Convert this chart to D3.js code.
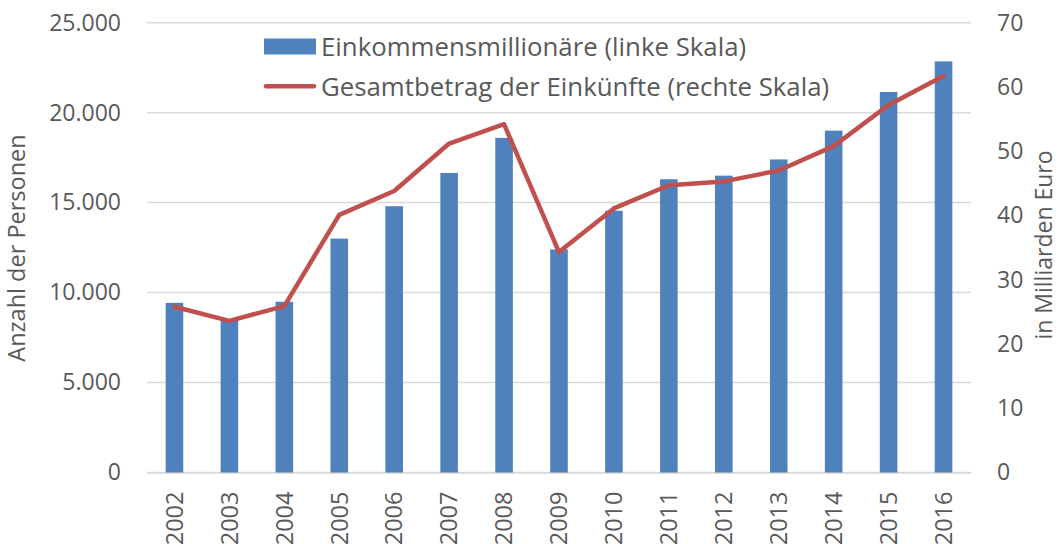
<!DOCTYPE html>
<html>
<head>
<meta charset="utf-8">
<script src="https://cdn.jsdelivr.net/npm/d3@7"></script>
<style>
  body { margin: 0; background: #fff; }
  svg text { font-family: "Open Sans", sans-serif; fill: #595959; }
</style>
</head>
<body>
<div class="canvas"></div>
<script>
const years = ['2002','2003','2004','2005','2006','2007','2008','2009','2010','2011','2012','2013','2014','2015','2016'];
const millionaires = [9430, 8480, 9490, 13000, 14800, 16650, 18600, 12400, 14550, 16300, 16500, 17400, 19000, 21150, 22850];
const income = [25.8, 23.6, 25.9, 40.1, 43.8, 51.2, 54.2, 34.3, 41.1, 44.7, 45.3, 47.0, 50.8, 57.2, 61.7];
const leftTicks = [0, 5000, 10000, 15000, 20000, 25000];
const rightTicks = [0, 10, 20, 30, 40, 50, 60, 70];
const legendLabels = ['Einkommensmillionäre (linke Skala)', 'Gesamtbetrag der Einkünfte (rechte Skala)'];

const width = 1060, height = 544;
const plot = { left: 147, right: 971, top: 22.7, bottom: 472.5 };

const svg = d3.select('.canvas').append('svg')
    .attr('width', width)
    .attr('height', height);

const x = d3.scaleBand().domain(years).range([plot.left, plot.right]).paddingInner(0.68).paddingOuter(0.34);
const yLeft = d3.scaleLinear().domain([0, 25000]).range([plot.bottom, plot.top]);
const yRight = d3.scaleLinear().domain([0, 70]).range([plot.bottom, plot.top]);

const fmt = d => d === 0 ? '0' : d3.format(',')(d).replace(/,/g, '.');

// gridlines
svg.append('g')
    .selectAll('line')
    .data(leftTicks)
    .join('line')
    .attr('x1', plot.left).attr('x2', plot.right)
    .attr('y1', d => yLeft(d)).attr('y2', d => yLeft(d))
    .attr('stroke', '#d9d9d9')
    .attr('stroke-width', 1.5);

// left axis
const leftAxis = svg.append('g')
    .attr('transform', `translate(${plot.left},0)`)
    .call(d3.axisLeft(yLeft).tickValues(leftTicks).tickFormat(fmt).tickSize(0).tickPadding(26));
leftAxis.select('.domain').remove();
leftAxis.selectAll('text').attr('font-size', 23).style('fill', '#595959');

// right axis
const rightAxis = svg.append('g')
    .attr('transform', `translate(${plot.right},0)`)
    .call(d3.axisRight(yRight).tickValues(rightTicks).tickSize(0).tickPadding(26));
rightAxis.select('.domain').remove();
rightAxis.selectAll('text').attr('font-size', 23).style('fill', '#595959');

// bottom axis
const bottomAxis = svg.append('g')
    .attr('transform', `translate(0,${plot.bottom})`)
    .call(d3.axisBottom(x).tickSize(0));
bottomAxis.select('.domain').attr('stroke', '#d9d9d9').attr('stroke-width', 1.5);
bottomAxis.selectAll('text')
    .attr('font-size', 23.5)
    .style('fill', '#595959')
    .attr('transform', 'rotate(-90)')
    .attr('text-anchor', 'end')
    .attr('x', -19)
    .attr('y', 0)
    .attr('dy', '0.35em');

// bars
svg.append('g')
    .selectAll('rect')
    .data(years)
    .join('rect')
    .attr('x', d => x(d))
    .attr('width', x.bandwidth())
    .attr('y', (d, i) => yLeft(millionaires[i]))
    .attr('height', (d, i) => plot.bottom - yLeft(millionaires[i]))
    .attr('fill', '#4f81bd');

// line
const line = d3.line()
    .x((d, i) => x(years[i]) + x.bandwidth() / 2)
    .y(d => yRight(d));

svg.append('path')
    .datum(income)
    .attr('d', line)
    .attr('fill', 'none')
    .attr('stroke', '#c0504d')
    .attr('stroke-width', 4.5)
    .attr('stroke-linejoin', 'round')
    .attr('stroke-linecap', 'round');

// axis titles
svg.append('text')
    .attr('transform', 'translate(25,248) rotate(-90)')
    .attr('text-anchor', 'middle')
    .attr('font-size', 23.5)
    .text('Anzahl der Personen');

svg.append('text')
    .attr('transform', 'translate(1052,245) rotate(-90)')
    .attr('text-anchor', 'middle')
    .attr('font-size', 23)
    .text('in Milliarden Euro');

// legend
const legend = svg.append('g');
legend.append('rect')
    .attr('x', 264).attr('y', 38.5)
    .attr('width', 52).attr('height', 16)
    .attr('fill', '#4f81bd');
legend.append('line')
    .attr('x1', 266).attr('x2', 314)
    .attr('y1', 86.3).attr('y2', 86.3)
    .attr('stroke', '#c0504d')
    .attr('stroke-width', 4.5)
    .attr('stroke-linecap', 'round');
legend.selectAll('text.leg')
    .data(legendLabels)
    .join('text')
    .attr('class', 'leg')
    .attr('x', 321)
    .attr('y', (d, i) => 46.5 + i * 40)
    .attr('dy', '0.35em')
    .attr('font-size', 25.8)
    .text(d => d);
</script>
</body>
</html>
